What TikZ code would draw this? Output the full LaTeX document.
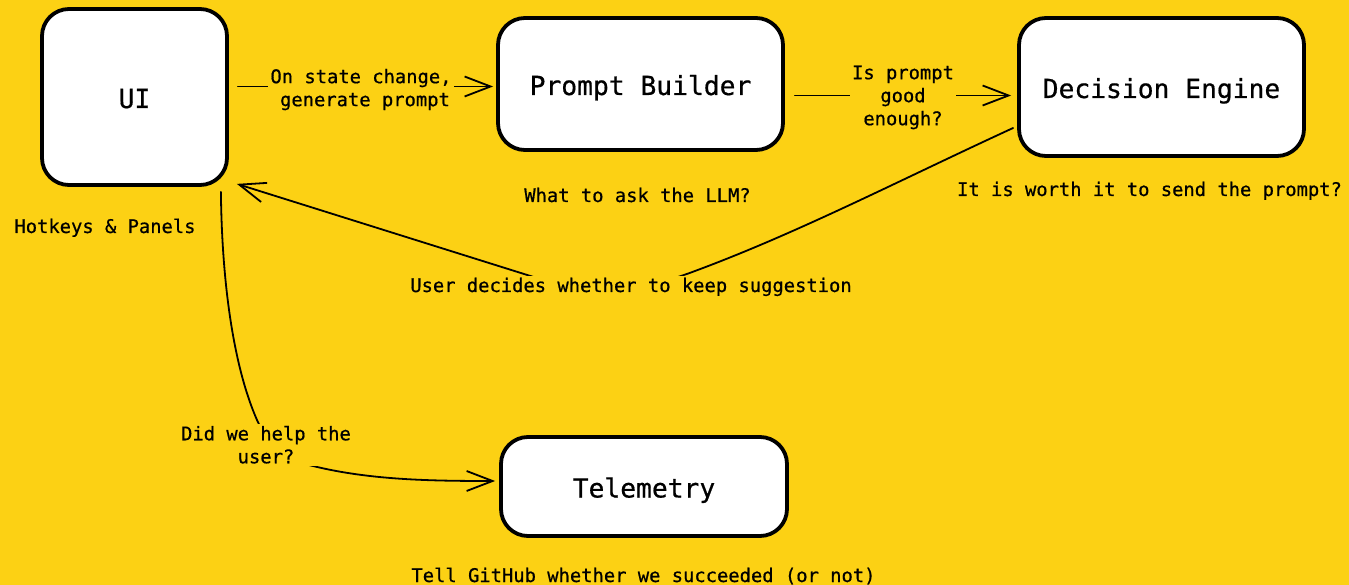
\documentclass[tikz,border=0pt]{standalone}
\usepackage{fontspec}
\setmonofont[FakeBold=0.6]{DejaVu Sans Mono}
\usetikzlibrary{arrows.meta,calc}
\definecolor{bg}{RGB}{252,209,20}
\tikzset{
  box/.style={draw=black, line width=3.8pt, fill=white, rounded corners=27pt, inner sep=0pt,
    font=\ttfamily\fontsize{26.3}{30}\selectfont, text height=22pt, text depth=0pt},
  lbl/.style={font=\ttfamily\fontsize{18.8}{23}\selectfont, inner sep=2pt, align=center},
  cutlbl/.style={lbl, fill=bg},
  conn/.style={line width=1.8pt, line cap=round},
  arr/.style={conn, -{Straight Barb[length=26pt,width=20pt]}},
}
\begin{document}
\begin{tikzpicture}[x=1pt,y=-1pt]
\fill[bg] (0,0) rectangle (1349,585);
\useasboundingbox (0,0) rectangle (1349,585);
% boxes
\node[box, minimum width=185pt, minimum height=176pt] (ui) at (134.5,97) {UI};
\node[box, minimum width=285pt, minimum height=132pt] (pb) at (640.5,84) {Prompt Builder};
\node[box, minimum width=285pt, minimum height=138pt] (de) at (1161.5,87) {Decision Engine};
\node[box, minimum width=286pt, minimum height=99pt] (tel) at (644,486.5) {Telemetry};
% connectors
\draw[arr, shorten <=9pt, shorten >=3pt] ([yshift=10.5pt]ui.east) -- ([yshift=-2.5pt]pb.west);
\draw[arr, shorten <=10pt, shorten >=6pt] ([yshift=-11.5pt]pb.east) -- ([yshift=-8.5pt]de.west);
\draw[arr] ([shift={(-4pt,-41pt)}]de.west) .. controls (900,180) and (800,232) .. (695,271)
  .. controls (650,288) and (600,298) .. (540,279) -- ($(ui.south east)+(8,-3)$);
\draw[arr, shorten >=4pt] ($(ui.south east)+(-8,5)$) .. controls (222,290) and (235,370) .. (257,420)
  .. controls (268,445) and (285,460) .. (313,466) .. controls (370,480) and (430,481) .. ([yshift=5.5pt]tel.west);
% connector labels
\node[cutlbl, anchor=north] (l1) at (361,66.7) {On state change,\\\hspace*{8pt}generate prompt};
\node[cutlbl, anchor=north] (l2) at (903,63.3) {Is prompt\\good\\enough?};
\node[cutlbl, anchor=base] (l3) at (631,292) {User decides whether to keep suggestion};
\node[cutlbl, anchor=north] (l4) at (266,423.7) {Did we help the\\user?};
% captions
\node[lbl, anchor=base] (c1) at (105,233) {Hotkeys \& Panels};
\node[lbl, anchor=base] (c2) at (637.5,202) {What to ask the LLM?};
\node[lbl, anchor=base] (c3) at (1149.5,196) {It is worth it to send the prompt?};
\node[lbl, anchor=base] (c4) at (643.5,582) {Tell GitHub whether we succeeded (or not)};
\end{tikzpicture}
\end{document}
